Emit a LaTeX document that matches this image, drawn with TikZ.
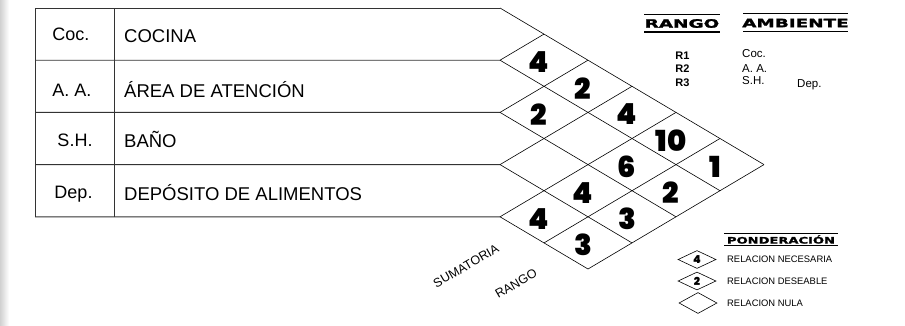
\documentclass[tikz,border=0pt]{standalone}
\usepackage{fontspec}
\setmainfont{Liberation Sans}
\newfontfamily\numfont{Poppins Black}
\newfontfamily\hdrfont[FakeStretch=1.6,FakeBold=2]{DejaVu Sans}
\newfontfamily\hdrfontb[FakeStretch=1.45,FakeBold=1.5]{DejaVu Sans}
\usetikzlibrary{shapes.geometric}
\begin{document}
\begin{tikzpicture}[x=1pt,y=-1pt,
  tbl/.style={draw=black!80,line width=0.9pt},
  gridline/.style={draw=black,line width=0.6pt},
  hline/.style={draw=black,line width=1.2pt},
  cellnum/.style={inner sep=0pt,font=\numfont\fontsize{29}{29}\selectfont},
  lbl/.style={inner sep=0pt,anchor=base,font=\fontsize{18}{18}\selectfont},
  roomname/.style={inner sep=0pt,anchor=base west,font=\fontsize{18.5}{18.5}\selectfont},
  hdr/.style={inner sep=0pt,font=\hdrfont\bfseries\fontsize{11.5}{11.5}\selectfont},
  smalltxt/.style={inner sep=0pt,font=\fontsize{11.5}{11.5}\selectfont},
  smallb/.style={inner sep=0pt,font=\bfseries\fontsize{11}{11}\selectfont},
  legtext/.style={inner sep=0pt,anchor=west,font=\fontsize{9.4}{9.4}\selectfont},
  legdia/.style={diamond,draw,line width=0.6pt,inner sep=0pt,minimum width=38pt,minimum height=18pt,
    font=\numfont\fontsize{11}{11}\selectfont},
  rot/.style={inner sep=0pt,rotate=30,font=\fontsize{12.5}{12.5}\selectfont}]
\useasboundingbox (0,0) rectangle (905,325);
\fill[white] (0,0) rectangle (905,325);
\shade[left color=black!18,right color=white] (0,0) rectangle (9,325);

% grid points
\foreach \a in {0,...,4}{
  \foreach \b in {\a,...,6}{
    \coordinate (P\a\b) at ({500+44*(\b-\a)},{8+26.1*(\a+\b)});
  }
  \coordinate (L\a) at (35,{8+52.2*\a});
}
\coordinate (D0) at (114,8);
\coordinate (D4) at (114,216.8);

% table
\foreach \k in {0,...,4}{ \draw[tbl] (L\k) -- (P\k\k); }
\draw[tbl] (L0) -- (L4);
\draw[tbl] (D0) -- (D4);

% diagonals
\foreach \a in {0,...,4}{ \draw[gridline] (P\a\a) -- (P\a6); }
\foreach \b in {1,...,4}{ \draw[gridline] (P\b\b) -- (P0\b); }
\draw[gridline] (P45) -- (P05);
\draw[gridline] (P46) -- (P06);

% table texts
\node[lbl] (l1) at (71,40) {Coc.};
\node[lbl] (l2) at (72,96) {A. A.};
\node[lbl] (l3) at (75,146.5) {S.H.};
\node[lbl] (l4) at (73.5,198.5) {Dep.};
\node[roomname] (t1) at (124,42.5) {COCINA};
\node[roomname] (t2) at (124,97) {ÁREA DE ATENCIÓN};
\node[roomname] (t3) at (124,147.5) {BAÑO};
\node[roomname] (t4) at (124,200) {DEPÓSITO DE ALIMENTOS};

% cell values
\foreach \i/\j/\v in {0/1/4,0/2/2,1/2/2,0/3/4,0/4/10,1/4/6,2/4/4,3/4/4,0/5/1,1/5/2,2/5/3,3/5/3}{
  \node[cellnum] (n\i\j) at ({500+44*(\j-\i)-5},{8+26.1*(\i+\j+1)+2}) {\v};
}

% rotated labels
\node[rot] (sum) at (466,266) {SUMATORIA};
\node[rot] (rng) at (516,283.5) {RANGO};

% headers
\node[hdr] (hR) at (682,23.5) {RANGO};
\draw[hline] (644,14.3) -- (720,14.3);
\draw[hline] (644,32) -- (720,32);
\node[hdr] (hA) at (795.5,23) {AMBIENTE};
\draw[hline] (743,13.5) -- (848,13.5);
\draw[hline] (743,31.5) -- (848,31.5);

\node[smallb] (r1) at (682.5,56) {R1};
\node[smallb] (r2) at (682.5,69) {R2};
\node[smallb] (r3) at (682.5,82.5) {R3};
\node[smalltxt,anchor=west] (a1) at (742,53.5) {Coc.};
\node[smalltxt,anchor=west] (a2) at (742,68.3) {A. A.};
\node[smalltxt,anchor=west] (a3) at (742,81) {S.H.};
\node[smalltxt,anchor=west] (a4) at (797,84.5) {Dep.};

% legend
\node[inner sep=0pt,font=\hdrfontb\bfseries\fontsize{9}{9}\selectfont] (hP) at (781,239.5) {PONDERACIÓN};
\draw[hline] (724,233.3) -- (838,233.3);
\draw[hline] (724,245.8) -- (838,245.8);
\node[legdia] (d1) at (697,259.5) {4};
\node[legdia] (d2) at (697,281) {2};
\node[legdia,minimum height=21pt] (d3) at (698,303) {};
\node[legtext] (e1) at (727,259.5) {RELACION NECESARIA};
\node[legtext] (e2) at (727,281.5) {RELACION DESEABLE};
\node[legtext] (e3) at (727,303.5) {RELACION NULA};
\end{tikzpicture}
\end{document}
